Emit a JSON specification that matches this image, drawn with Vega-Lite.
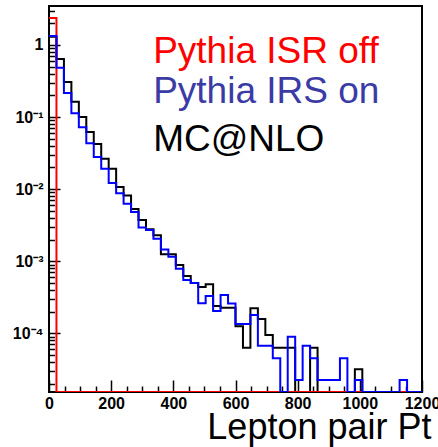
{
  "$schema": "https://vega.github.io/schema/vega-lite/v6.json",
  "width": 373,
  "height": 386,
  "autosize": {"type": "none"},
  "padding": {"left": 49, "top": 6, "right": 16, "bottom": 55},
  "background": "white",
  "config": {
    "view": {"stroke": "black", "strokeWidth": 2},
    "font": "Liberation Sans",
    "axis": {"grid": false, "tickColor": "black", "tickWidth": 1.5, "domain": false, "labelColor": "black", "zindex": 1}
  },
  "resolve": {"axis": {"x": "independent", "y": "independent"}},
  "datasets": {
    "hist": [
      {"series": "MC@NLO", "pt": 0, "dn": 1.3},
      {"series": "MC@NLO", "pt": 24, "dn": 0.639},
      {"series": "MC@NLO", "pt": 48, "dn": 0.3067},
      {"series": "MC@NLO", "pt": 72, "dn": 0.1634},
      {"series": "MC@NLO", "pt": 96, "dn": 0.1003},
      {"series": "MC@NLO", "pt": 120, "dn": 0.0621},
      {"series": "MC@NLO", "pt": 144, "dn": 0.0423},
      {"series": "MC@NLO", "pt": 168, "dn": 0.02646},
      {"series": "MC@NLO", "pt": 192, "dn": 0.01922},
      {"series": "MC@NLO", "pt": 216, "dn": 0.01072},
      {"series": "MC@NLO", "pt": 240, "dn": 0.00817},
      {"series": "MC@NLO", "pt": 264, "dn": 0.00531},
      {"series": "MC@NLO", "pt": 288, "dn": 0.003733},
      {"series": "MC@NLO", "pt": 312, "dn": 0.002774},
      {"series": "MC@NLO", "pt": 336, "dn": 0.00229},
      {"series": "MC@NLO", "pt": 360, "dn": 0.001248},
      {"series": "MC@NLO", "pt": 384, "dn": 0.001248},
      {"series": "MC@NLO", "pt": 408, "dn": 0.000887},
      {"series": "MC@NLO", "pt": 432, "dn": 0.000624},
      {"series": "MC@NLO", "pt": 456, "dn": 0.000499},
      {"series": "MC@NLO", "pt": 480, "dn": 0.000439},
      {"series": "MC@NLO", "pt": 504, "dn": 0.000479},
      {"series": "MC@NLO", "pt": 528, "dn": 0.000239},
      {"series": "MC@NLO", "pt": 552, "dn": 0.000227},
      {"series": "MC@NLO", "pt": 576, "dn": 0.000227},
      {"series": "MC@NLO", "pt": 600, "dn": 0.000125},
      {"series": "MC@NLO", "pt": 624, "dn": 0.000063},
      {"series": "MC@NLO", "pt": 648, "dn": 0.000222},
      {"series": "MC@NLO", "pt": 672, "dn": 0.000158},
      {"series": "MC@NLO", "pt": 696, "dn": 0.000095},
      {"series": "MC@NLO", "pt": 720, "dn": 0.000063},
      {"series": "MC@NLO", "pt": 744, "dn": 0.000063},
      {"series": "MC@NLO", "pt": 768, "dn": 0.000063},
      {"series": "MC@NLO", "pt": 792, "dn": 0},
      {"series": "MC@NLO", "pt": 816, "dn": 0},
      {"series": "MC@NLO", "pt": 840, "dn": 0.000063},
      {"series": "MC@NLO", "pt": 864, "dn": 0},
      {"series": "MC@NLO", "pt": 888, "dn": 0},
      {"series": "MC@NLO", "pt": 912, "dn": 0},
      {"series": "MC@NLO", "pt": 936, "dn": 0},
      {"series": "MC@NLO", "pt": 960, "dn": 0},
      {"series": "MC@NLO", "pt": 984, "dn": 0.0000317},
      {"series": "MC@NLO", "pt": 1008, "dn": 0},
      {"series": "MC@NLO", "pt": 1032, "dn": 0},
      {"series": "MC@NLO", "pt": 1056, "dn": 0},
      {"series": "MC@NLO", "pt": 1080, "dn": 0},
      {"series": "MC@NLO", "pt": 1104, "dn": 0},
      {"series": "MC@NLO", "pt": 1128, "dn": 0},
      {"series": "MC@NLO", "pt": 1152, "dn": 0},
      {"series": "MC@NLO", "pt": 1176, "dn": 0},
      {"series": "MC@NLO", "pt": 1200, "dn": 0},

      {"series": "Pythia ISR off", "pt": 0, "dn": 2.37},
      {"series": "Pythia ISR off", "pt": 24, "dn": 0},
      {"series": "Pythia ISR off", "pt": 48, "dn": 0},
      {"series": "Pythia ISR off", "pt": 72, "dn": 0},
      {"series": "Pythia ISR off", "pt": 96, "dn": 0},
      {"series": "Pythia ISR off", "pt": 120, "dn": 0},
      {"series": "Pythia ISR off", "pt": 144, "dn": 0},
      {"series": "Pythia ISR off", "pt": 168, "dn": 0},
      {"series": "Pythia ISR off", "pt": 192, "dn": 0},
      {"series": "Pythia ISR off", "pt": 216, "dn": 0},
      {"series": "Pythia ISR off", "pt": 240, "dn": 0},
      {"series": "Pythia ISR off", "pt": 264, "dn": 0},
      {"series": "Pythia ISR off", "pt": 288, "dn": 0},
      {"series": "Pythia ISR off", "pt": 312, "dn": 0},
      {"series": "Pythia ISR off", "pt": 336, "dn": 0},
      {"series": "Pythia ISR off", "pt": 360, "dn": 0},
      {"series": "Pythia ISR off", "pt": 384, "dn": 0},
      {"series": "Pythia ISR off", "pt": 408, "dn": 0},
      {"series": "Pythia ISR off", "pt": 432, "dn": 0},
      {"series": "Pythia ISR off", "pt": 456, "dn": 0},
      {"series": "Pythia ISR off", "pt": 480, "dn": 0},
      {"series": "Pythia ISR off", "pt": 504, "dn": 0},
      {"series": "Pythia ISR off", "pt": 528, "dn": 0},
      {"series": "Pythia ISR off", "pt": 552, "dn": 0},
      {"series": "Pythia ISR off", "pt": 576, "dn": 0},
      {"series": "Pythia ISR off", "pt": 600, "dn": 0},
      {"series": "Pythia ISR off", "pt": 624, "dn": 0},
      {"series": "Pythia ISR off", "pt": 648, "dn": 0},
      {"series": "Pythia ISR off", "pt": 672, "dn": 0},
      {"series": "Pythia ISR off", "pt": 696, "dn": 0},
      {"series": "Pythia ISR off", "pt": 720, "dn": 0},
      {"series": "Pythia ISR off", "pt": 744, "dn": 0},
      {"series": "Pythia ISR off", "pt": 768, "dn": 0},
      {"series": "Pythia ISR off", "pt": 792, "dn": 0},
      {"series": "Pythia ISR off", "pt": 816, "dn": 0},
      {"series": "Pythia ISR off", "pt": 840, "dn": 0},
      {"series": "Pythia ISR off", "pt": 864, "dn": 0},
      {"series": "Pythia ISR off", "pt": 888, "dn": 0},
      {"series": "Pythia ISR off", "pt": 912, "dn": 0},
      {"series": "Pythia ISR off", "pt": 936, "dn": 0},
      {"series": "Pythia ISR off", "pt": 960, "dn": 0},
      {"series": "Pythia ISR off", "pt": 984, "dn": 0},
      {"series": "Pythia ISR off", "pt": 1008, "dn": 0},
      {"series": "Pythia ISR off", "pt": 1032, "dn": 0},
      {"series": "Pythia ISR off", "pt": 1056, "dn": 0},
      {"series": "Pythia ISR off", "pt": 1080, "dn": 0},
      {"series": "Pythia ISR off", "pt": 1104, "dn": 0},
      {"series": "Pythia ISR off", "pt": 1128, "dn": 0},
      {"series": "Pythia ISR off", "pt": 1152, "dn": 0},
      {"series": "Pythia ISR off", "pt": 1176, "dn": 0},
      {"series": "Pythia ISR off", "pt": 1200, "dn": 0},

      {"series": "Pythia IRS on", "pt": 0, "dn": 1.333},
      {"series": "Pythia IRS on", "pt": 24, "dn": 0.484},
      {"series": "Pythia IRS on", "pt": 48, "dn": 0.2158},
      {"series": "Pythia IRS on", "pt": 72, "dn": 0.1128},
      {"series": "Pythia IRS on", "pt": 96, "dn": 0.0721},
      {"series": "Pythia IRS on", "pt": 120, "dn": 0.04327},
      {"series": "Pythia IRS on", "pt": 144, "dn": 0.02794},
      {"series": "Pythia IRS on", "pt": 168, "dn": 0.01916},
      {"series": "Pythia IRS on", "pt": 192, "dn": 0.01218},
      {"series": "Pythia IRS on", "pt": 216, "dn": 0.00876},
      {"series": "Pythia IRS on", "pt": 240, "dn": 0.00628},
      {"series": "Pythia IRS on", "pt": 264, "dn": 0.00482},
      {"series": "Pythia IRS on", "pt": 288, "dn": 0.002938},
      {"series": "Pythia IRS on", "pt": 312, "dn": 0.002713},
      {"series": "Pythia IRS on", "pt": 336, "dn": 0.002054},
      {"series": "Pythia IRS on", "pt": 360, "dn": 0.00145},
      {"series": "Pythia IRS on", "pt": 384, "dn": 0.001156},
      {"series": "Pythia IRS on", "pt": 408, "dn": 0.000785},
      {"series": "Pythia IRS on", "pt": 432, "dn": 0.000549},
      {"series": "Pythia IRS on", "pt": 456, "dn": 0.000499},
      {"series": "Pythia IRS on", "pt": 480, "dn": 0.000261},
      {"series": "Pythia IRS on", "pt": 504, "dn": 0.00033},
      {"series": "Pythia IRS on", "pt": 528, "dn": 0.000204},
      {"series": "Pythia IRS on", "pt": 552, "dn": 0.00034},
      {"series": "Pythia IRS on", "pt": 576, "dn": 0.000259},
      {"series": "Pythia IRS on", "pt": 600, "dn": 0.000135},
      {"series": "Pythia IRS on", "pt": 624, "dn": 0.000135},
      {"series": "Pythia IRS on", "pt": 648, "dn": 0.00018},
      {"series": "Pythia IRS on", "pt": 672, "dn": 0.0000675},
      {"series": "Pythia IRS on", "pt": 696, "dn": 0.0000675},
      {"series": "Pythia IRS on", "pt": 720, "dn": 0.000045},
      {"series": "Pythia IRS on", "pt": 744, "dn": 0},
      {"series": "Pythia IRS on", "pt": 768, "dn": 0.00009},
      {"series": "Pythia IRS on", "pt": 792, "dn": 0.0000225},
      {"series": "Pythia IRS on", "pt": 816, "dn": 0.0000675},
      {"series": "Pythia IRS on", "pt": 840, "dn": 0.000045},
      {"series": "Pythia IRS on", "pt": 864, "dn": 0.0000225},
      {"series": "Pythia IRS on", "pt": 888, "dn": 0.0000225},
      {"series": "Pythia IRS on", "pt": 912, "dn": 0.0000225},
      {"series": "Pythia IRS on", "pt": 936, "dn": 0.000045},
      {"series": "Pythia IRS on", "pt": 960, "dn": 0},
      {"series": "Pythia IRS on", "pt": 984, "dn": 0.0000225},
      {"series": "Pythia IRS on", "pt": 1008, "dn": 0},
      {"series": "Pythia IRS on", "pt": 1032, "dn": 0},
      {"series": "Pythia IRS on", "pt": 1056, "dn": 0},
      {"series": "Pythia IRS on", "pt": 1080, "dn": 0},
      {"series": "Pythia IRS on", "pt": 1104, "dn": 0},
      {"series": "Pythia IRS on", "pt": 1128, "dn": 0.0000225},
      {"series": "Pythia IRS on", "pt": 1152, "dn": 0},
      {"series": "Pythia IRS on", "pt": 1176, "dn": 0},
      {"series": "Pythia IRS on", "pt": 1200, "dn": 0}
    ],
    "labels": [
      {"label": "Pythia ISR off", "pt": 335, "dn": 0.5573},
      {"label": "Pythia IRS on", "pt": 335, "dn": 0.1553},
      {"label": "MC@NLO", "pt": 335, "dn": 0.03417}
    ]
  },
  "layer": [
    {
      "data": {"name": "hist"},
      "transform": [{"filter": "datum.series == 'MC@NLO'"}],
      "mark": {"type": "line", "interpolate": "step-after", "color": "black", "strokeWidth": 2, "invalid": "show", "clip": true},
      "encoding": {
        "x": {
          "field": "pt", "type": "quantitative",
          "scale": {"domain": [0, 1200], "nice": false, "zero": false},
          "axis": {
            "orient": "bottom", "offset": -6,
            "values": [50,100,150,250,300,350,450,500,550,650,700,750,850,900,950,1050,1100,1150],
            "tickSize": 6, "labels": false, "title": null
          }
        },
        "y": {
          "field": "dn", "type": "quantitative",
          "scale": {"type": "log", "domain": [0.00001535, 3.475], "nice": false, "zero": false, "clamp": true},
          "axis": {
            "orient": "left", "offset": -5.5,
            "values": [0.00002,0.00003,0.00004,0.00005,0.00006,0.00007,0.00008,0.00009,0.0002,0.0003,0.0004,0.0005,0.0006,0.0007,0.0008,0.0009,0.002,0.003,0.004,0.005,0.006,0.007,0.008,0.009,0.02,0.03,0.04,0.05,0.06,0.07,0.08,0.09,0.2,0.3,0.4,0.5,0.6,0.7,0.8,0.9,2,3],
            "tickSize": 5.5, "labels": false, "title": null
          }
        }
      }
    },
    {
      "data": {"name": "hist"},
      "transform": [{"filter": "datum.series == 'Pythia ISR off'"}],
      "mark": {"type": "line", "interpolate": "step-after", "color": "#ff0000", "strokeWidth": 2, "invalid": "show", "clip": true},
      "encoding": {
        "x": {"field": "pt", "type": "quantitative", "axis": null},
        "y": {"field": "dn", "type": "quantitative", "axis": null}
      }
    },
    {
      "data": {"name": "hist"},
      "transform": [{"filter": "datum.series == 'Pythia IRS on'"}],
      "mark": {"type": "line", "interpolate": "step-after", "color": "#0000ff", "strokeWidth": 2, "invalid": "show", "clip": true},
      "encoding": {
        "x": {"field": "pt", "type": "quantitative", "axis": null},
        "y": {"field": "dn", "type": "quantitative", "axis": null}
      }
    },
    {
      "data": {"name": "labels"},
      "mark": {"type": "text", "align": "left", "baseline": "alphabetic", "font": "Liberation Sans", "fontSize": 37},
      "encoding": {
        "x": {
          "field": "pt", "type": "quantitative",
          "axis": {
            "orient": "bottom", "offset": -12,
            "values": [0,200,400,600,800,1000,1200],
            "format": "d",
            "tickSize": 12, "labelPadding": 3,
            "labelFont": "Liberation Sans", "labelFontWeight": "bold", "labelFontSize": 16,
            "labelOverlap": false, "labelFlush": false, "labelBound": false,
            "title": "Lepton pair Pt",
            "titleFont": "Liberation Sans", "titleFontSize": 36, "titleFontWeight": "normal", "titleColor": "black",
            "titleAnchor": "end", "titleAlign": "right", "titleBaseline": "alphabetic",
            "titleX": 382, "titleY": 58
          }
        },
        "y": {
          "field": "dn", "type": "quantitative",
          "axis": {
            "orient": "left", "offset": -11,
            "values": [0.0001, 0.001, 0.01, 0.1, 1],
            "labelExpr": "datum.value > 0.5 ? '1' : '10' + ['', '⁻¹', '⁻²', '⁻³', '⁻⁴', '⁻⁵'][-round(log(datum.value)/LN10)]",
            "tickSize": 11, "labelPadding": 6,
            "labelFont": "Liberation Sans", "labelFontWeight": "bold", "labelFontSize": 16,
            "labelOverlap": false, "labelFlush": false, "labelBound": false,
            "title": null
          }
        },
        "text": {"field": "label"},
        "color": {
          "field": "label", "type": "nominal",
          "scale": {"domain": ["Pythia ISR off", "Pythia IRS on", "MC@NLO"], "range": ["#ff0000", "#3b3ba6", "#000000"]},
          "legend": null
        }
      }
    }
  ]
}
